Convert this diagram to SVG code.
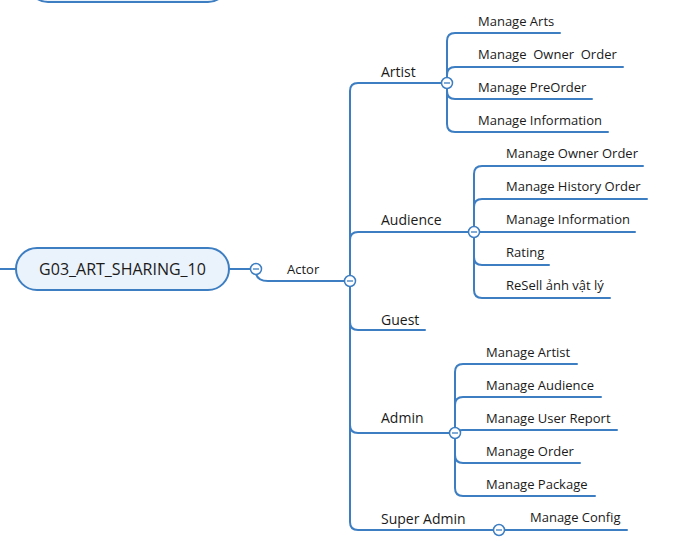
<svg xmlns="http://www.w3.org/2000/svg" width="683" height="537" viewBox="0 0 683 537">
<style>
.ln{fill:none;stroke:#3D7EC2;stroke-width:2;stroke-linecap:round}
.c{fill:#fff;stroke:#3D7EC2;stroke-width:1.5}
.m{stroke:#3D7EC2;stroke-width:1.3}
.t{font-family:"Open Sans","Noto Sans","Liberation Sans",sans-serif;font-size:13px;fill:#1a1a1a}
.b{font-family:"Open Sans","Noto Sans","Liberation Sans",sans-serif;font-size:14px;fill:#1a1a1a}
.n{fill:#EAF2FB;stroke:#3D7EC2;stroke-width:2}
</style>
<defs>
<g id="col"><circle class="c" r="5.5"/><line class="m" x1="-3" y1="0" x2="3" y2="0"/></g>
</defs>
<rect width="683" height="537" fill="#fff"/>
<g id="top-node"><rect class="n" x="28" y="-40" width="200" height="42" rx="20"/></g>
<g id="connectors">
<path class="ln" d="M0,269 L16,269"/>
<path class="ln" d="M229,269 L251,269"/>
<path class="ln" d="M256,274 Q258,281 268,281 L345,281"/>
<path class="ln" d="M350,281 L350,91 Q350,83 358,83 L442,83"/>
<path class="ln" d="M350,281 L350,240 Q350,232 358,232 L469,232"/>
<path class="ln" d="M350,281 L350,522 Q350,530 358,530 L494,530"/>
<path class="ln" d="M350,281 L350,322 Q350,330 358,330 L425,330"/>
<path class="ln" d="M350,281 L350,425 Q350,433 358,433 L450,433"/>
<path class="ln" d="M447,83 L447,41 Q447,33 455,33 L560,33"/>
<path class="ln" d="M447,83 L447,75 Q447,67 455,67 L623,67"/>
<path class="ln" d="M447,83 L447,91 Q447,99 455,99 L592,99"/>
<path class="ln" d="M447,83 L447,124 Q447,132 455,132 L608,132"/>
<path class="ln" d="M474,232 L474,174 Q474,166 482,166 L643,166"/>
<path class="ln" d="M474,232 L474,207 Q474,199 482,199 L647,199"/>
<path class="ln" d="M479,232 L635,232"/>
<path class="ln" d="M474,232 L474,257 Q474,265 482,265 L549,265"/>
<path class="ln" d="M474,232 L474,290 Q474,298 482,298 L610,298"/>
<path class="ln" d="M455,433 L455,372 Q455,364 463,364 L577,364"/>
<path class="ln" d="M455,433 L455,405 Q455,397 463,397 L601,397"/>
<path class="ln" d="M455,433 Q455,430 463,430 L617,430"/>
<path class="ln" d="M455,433 L455,455 Q455,463 463,463 L580,463"/>
<path class="ln" d="M455,433 L455,488 Q455,496 463,496 L595,496"/>
<path class="ln" d="M504,530 L627,530"/>
</g>
<g id="root"><rect class="n" x="16" y="248" width="213" height="42" rx="21"/><text x="122.5" y="275" text-anchor="middle" font-family="Open Sans,Noto Sans,Liberation Sans,sans-serif" font-size="16" fill="#1a1a1a">G03_ART_SHARING_10</text><use href="#col" x="256" y="269"/></g>
<g id="actor"><text class="t" x="287" y="274">Actor</text><use href="#col" x="350" y="281"/></g>
<g id="artist"><text class="b" x="381" y="77">Artist</text><use href="#col" x="447" y="83"/></g>
<g id="artist-1"><text class="t" x="478" y="26">Manage Arts</text></g>
<g id="artist-2"><text class="t" x="478" y="59" xml:space="preserve">Manage  Owner  Order</text></g>
<g id="artist-3"><text class="t" x="478" y="92">Manage PreOrder</text></g>
<g id="artist-4"><text class="t" x="478" y="125">Manage Information</text></g>
<g id="audience"><text class="b" x="381" y="225">Audience</text><use href="#col" x="474" y="232"/></g>
<g id="audience-1"><text class="t" x="506" y="158">Manage Owner Order</text></g>
<g id="audience-2"><text class="t" x="506" y="191">Manage History Order</text></g>
<g id="audience-3"><text class="t" x="506" y="224">Manage Information</text></g>
<g id="audience-4"><text class="t" x="506" y="257">Rating</text></g>
<g id="audience-5"><text class="t" x="506" y="290">ReSell ảnh vật lý</text></g>
<g id="guest"><text class="b" x="381" y="325">Guest</text></g>
<g id="admin"><text class="b" x="381" y="423">Admin</text><use href="#col" x="455" y="433"/></g>
<g id="admin-1"><text class="t" x="486" y="357">Manage Artist</text></g>
<g id="admin-2"><text class="t" x="486" y="390">Manage Audience</text></g>
<g id="admin-3"><text class="t" x="486" y="423">Manage User Report</text></g>
<g id="admin-4"><text class="t" x="486" y="456">Manage Order</text></g>
<g id="admin-5"><text class="t" x="486" y="489">Manage Package</text></g>
<g id="super-admin"><text class="b" x="381" y="524">Super Admin</text><use href="#col" x="499" y="530"/></g>
<g id="super-admin-1"><text class="t" x="530" y="522">Manage Config</text></g>
</svg>
